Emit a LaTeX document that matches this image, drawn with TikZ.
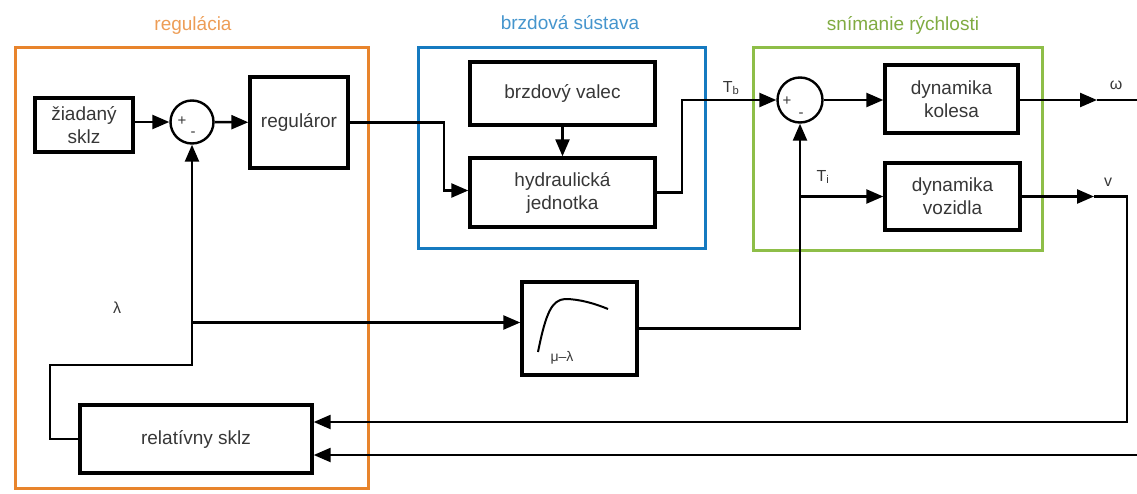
\documentclass[tikz,border=0pt]{standalone}
\usepackage{fontspec}
\setmainfont{Liberation Sans}
\usetikzlibrary{arrows.meta, positioning, calc}

\definecolor{oranz}{RGB}{232,132,44}
\definecolor{modra}{RGB}{22,122,192}
\definecolor{zelena}{RGB}{142,190,72}
\definecolor{text}{RGB}{55,55,55}

\begin{document}
\begin{tikzpicture}[x=1pt, y=-1pt, >={Triangle[length=17pt,width=14pt]}, line width=2.4pt,
    blok/.style={rectangle, draw, line width=3.4pt, text=text, align=center,
      font=\fontsize{19}{23}\selectfont, inner sep=0pt},
    sucet/.style={circle, draw, line width=2.4pt, minimum size=43pt, inner sep=0pt},
    ramec/.style={draw, line width=3pt},
    nadpis/.style={font=\fontsize{19}{23}\selectfont},
    znak/.style={text=text, font=\fontsize{15}{17}\selectfont, inner sep=0pt},
    popis/.style={text=text, font=\fontsize{16}{19}\selectfont, inner sep=0pt}]
  \useasboundingbox (0,0) rectangle (1137,493);

  % ramce
  \draw[ramec, oranz] (15,47) rectangle (368,488);
  \draw[ramec, modra] (418,47) rectangle (705,248);
  \draw[ramec, zelena] (753,47) rectangle (1042,250);
  \node[nadpis, text=oranz!80] (tReg) at (193,25) {regulácia};
  \node[nadpis, text=modra!80] (tBrz) at (570,23) {brzdová sústava};
  \node[nadpis, text=zelena!90!black] (tSni) at (903,25) {snímanie rýchlosti};

  % bloky
  \node[blok, minimum width=98pt, minimum height=54pt] (ziad) at (84,125) {žiadaný\\sklz};
  \node[sucet] (s1) at (192,122) {};
  \node[blok, minimum width=98pt, minimum height=91pt] (reg) at (299,122.5) {reguláror};
  \node[blok, minimum width=185pt, minimum height=63pt] (valec) at (562.5,93.5) {brzdový valec};
  \node[blok, minimum width=185pt, minimum height=69pt] (hydr) at (562.5,192.5) {hydraulická\\jednotka};
  \node[sucet, minimum size=45pt] (s2) at (800,100) {};
  \node[blok, minimum width=133pt, minimum height=68pt] (kol) at (951.5,99) {dynamika\\kolesa};
  \node[blok, minimum width=135pt, minimum height=67pt] (voz) at (952.5,196.5) {dynamika\\vozidla};
  \node[blok, minimum width=115pt, minimum height=93pt] (mu) at (579.5,328.5) {};
  \node[blok, minimum width=232pt, minimum height=68pt] (rel) at (196,439) {relatívny sklz};

  % znamienka
  \node[znak] (p1) at (182,121) {+};
  \node[znak] (m1) at (193,134) {-};
  \node[znak] (p2) at (787,101) {+};
  \node[znak] (m2) at (801,115) {-};

  % krivka mu-lambda
  \draw[line width=2pt] (538,352) .. controls (546,312) and (552,300) .. (565,299)
    .. controls (580,299) and (596,304) .. (608,309);
  \node[text=text, font=\fontsize{14}{16}\selectfont] (ml) at (562,358) {μ–λ};

  % spojnice
  \draw[->] (s1.west -| ziad.east) -- (s1.west);
  \draw[->] (s1) -- (reg);
  \draw[->] (reg.east) -- ++(94,0) |- ([yshift=2pt]hydr.west);
  \draw[->] (valec) -- (hydr);
  \draw[->] (hydr.east) -- ++(25,0) |- (s2.west);
  \node[popis] (Tb) at (731,88) {T\textsubscript{b}};
  \draw[->] (s2.east) -- (s2.east -| kol.west);

  \coordinate (om) at (1097,100);
  \coordinate (wout) at (1137,100);
  \draw[->] (kol.east |- om) -- (om);
  \draw (om) -- (wout);
  \node[popis] (lom) at (1116,85) {ω};

  \coordinate (vb) at (1094,196.5);
  \draw[->] (voz.east) -- (vb);
  \draw[->] (vb) -- ++(33,0) |- ([yshift=17pt]rel.east);
  \node[popis] (lv) at (1108,182) {v};
  \coordinate (win) at (1137,455);
  \draw[->] (win) -- ([yshift=-16pt]rel.east);

  \coordinate (lroh) at (50,365);
  \draw[->] (rel.west) -| (lroh) -| (s1.south);
  \coordinate (lam) at (192,322.5);
  \draw[->] (lam) -- ([yshift=6pt]mu.west);
  \node[popis] (llam) at (117,308) {λ};

  \draw[->] (mu.east) -| (s2.south);
  \coordinate (tbod) at (800,196.5);
  \draw[->] (tbod) -- (voz.west);
  \node[popis] (Ti) at (823,177) {T\textsubscript{i}};
\end{tikzpicture}
\end{document}
